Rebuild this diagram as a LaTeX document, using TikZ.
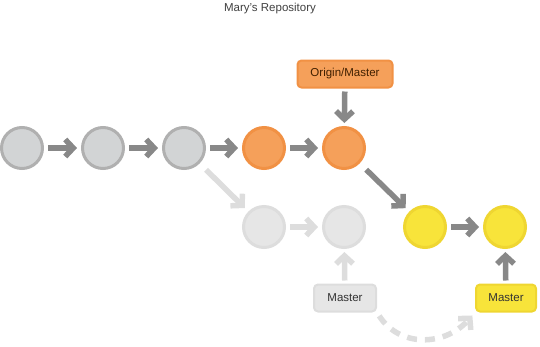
\documentclass[tikz,border=0pt]{standalone}
\usepackage{fontspec}
\setmainfont{Liberation Sans}
\usetikzlibrary{arrows.meta}

\definecolor{grayfill}{HTML}{D2D4D5}
\definecolor{grayring}{HTML}{B0B0B0}
\definecolor{orangefill}{HTML}{F5A05A}
\definecolor{orangering}{HTML}{F19144}
\definecolor{yellowfill}{HTML}{F8E43A}
\definecolor{yellowring}{HTML}{EFD631}
\definecolor{fadefill}{HTML}{E6E6E6}
\definecolor{fadering}{HTML}{DDDDDD}
\definecolor{arrowdark}{HTML}{888888}
\definecolor{arrowfade}{HTML}{DDDDDD}

\begin{document}
\begin{tikzpicture}[x=1pt, y=-1pt,
  commit/.style={circle, line width=3pt, minimum size=41pt, inner sep=0pt},
  label/.style={rounded corners=4pt, line width=2pt, minimum height=27pt, inner sep=0pt, font=\fontsize{11.5}{13}\selectfont},
  arr/.style={line width=5.5pt, draw=arrowdark, -{Straight Barb[length=8pt, width=17pt]}},
  farr/.style={arr, draw=arrowfade}]

\useasboundingbox (0,0) rectangle (540,346);

\node (title) at (270,9) [text=black!75, font=\fontsize{11.5}{13}\selectfont] {Mary's Repository};

% top row
\node (c1) at (22,148)  [commit, fill=grayfill, draw=grayring] {};
\node (c2) at (103,148) [commit, fill=grayfill, draw=grayring] {};
\node (c3) at (184,148) [commit, fill=grayfill, draw=grayring] {};
\node (c4) at (264,148) [commit, fill=orangefill, draw=orangering] {};
\node (c5) at (344,148) [commit, fill=orangefill, draw=orangering] {};

% second row
\node (f1) at (264,227) [commit, fill=fadefill, draw=fadering] {};
\node (f2) at (344,227) [commit, fill=fadefill, draw=fadering] {};
\node (y1) at (425,227) [commit, fill=yellowfill, draw=yellowring] {};
\node (y2) at (505,227) [commit, fill=yellowfill, draw=yellowring] {};

% branch labels
\node (om) at (345,74)  [label, minimum width=95pt, fill=orangefill, draw=orangering, text=black!75!orange] {Origin/Master};
\node (mg) at (345,298) [label, minimum width=62pt, fill=fadefill, draw=fadering, text=black!80] {Master};
\node (my) at (506,298) [label, minimum width=60pt, fill=yellowfill, draw=yellowring, text=black!80] {Master};

\begin{scope}[shorten <=4pt, shorten >=4pt]
\draw [arr] (c1) -- (c2);
\draw [arr] (c2) -- (c3);
\draw [arr] (c3) -- (c4);
\draw [arr] (c4) -- (c5);
\draw [farr] (f1) -- (f2);
\draw [arr] (y1) -- (y2);
\end{scope}

\draw [farr, shorten <=9pt, shorten >=5pt] (c3) -- (f1);
\draw [arr, shorten <=9pt, shorten >=5pt] (c5) -- (y1);
\draw [arr, shorten <=3pt, shorten >=3pt] (om) -- (c5);
\draw [farr, shorten <=3pt, shorten >=3pt] (mg) -- (f2);
\draw [arr, shorten <=3pt, shorten >=3pt] (my) -- (y2);

\draw [farr, dash pattern=on 10pt off 8pt, shorten <=4pt, shorten >=4pt]
  (mg.south east) .. controls (400,348) and (445,346) .. (my.south west);

\end{tikzpicture}
\end{document}
